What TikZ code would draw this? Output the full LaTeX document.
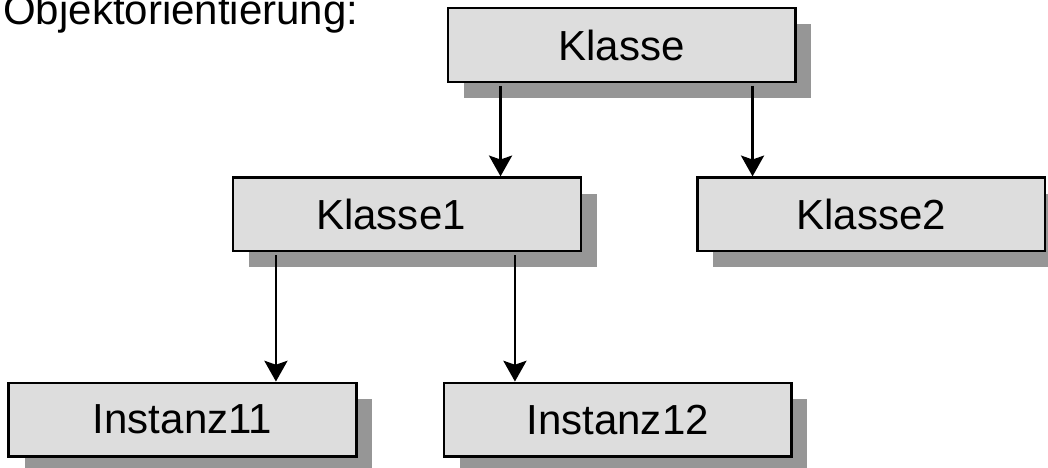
\documentclass[tikz,border=0pt]{standalone}
\usepackage{fontspec}
\setmainfont{Liberation Sans}
\usetikzlibrary{arrows.meta,positioning,shadows}
\definecolor{boxfill}{HTML}{DDDDDD}
\definecolor{shadegray}{HTML}{969696}

\begin{document}
\begin{tikzpicture}[
  box/.style={draw, line width=1.8pt, fill=boxfill, minimum width=8.69cm, minimum height=1.84cm,
    inner sep=0pt, font=\fontsize{29.9}{36}\selectfont,
    drop shadow={shadow xshift=0.4cm, shadow yshift=-0.4cm, fill=shadegray, opacity=1}},
  arr/.style={-{Stealth[length=0.52cm, width=0.58cm, inset=0.1cm]}, line width=1.5pt, shorten <=2pt}]
\useasboundingbox (0,0) rectangle (26.2,-11.7);
\node[anchor=base west, inner sep=0pt, font=\fontsize{29.9}{36}\selectfont] (titel) at (0.075,-0.61) {Objektorientierung:};
% class tree
\node[box] (klasse) at (15.54,-1.125) {Klasse};
\node[box] (klasse1) at (10.175,-5.36) {Klasse1\hspace*{0.8cm}};
\node[box, right=2.85cm of klasse1] (klasse2) {Klasse2};
\node[box] (inst11) at (4.5625,-10.49) {Instanz11};
\node[box, right=2.125cm of inst11] (inst12) {Instanz12};
% connectors leave the upper box at fixed offsets
\coordinate (k1) at ([xshift=1.35cm]klasse.south west);
\coordinate (k2) at ([xshift=7.65cm]klasse.south west);
\coordinate (i1) at ([xshift=1.1cm]klasse1.south west);
\coordinate (i2) at ([xshift=7.075cm]klasse1.south west);
\draw[arr] (k1) -- (k1 |- klasse1.north);
\draw[arr] (k2) -- (k2 |- klasse2.north);
\draw[arr] (i1) -- (i1 |- inst11.north);
\draw[arr] (i2) -- (i2 |- inst12.north);
\end{tikzpicture}
\end{document}
